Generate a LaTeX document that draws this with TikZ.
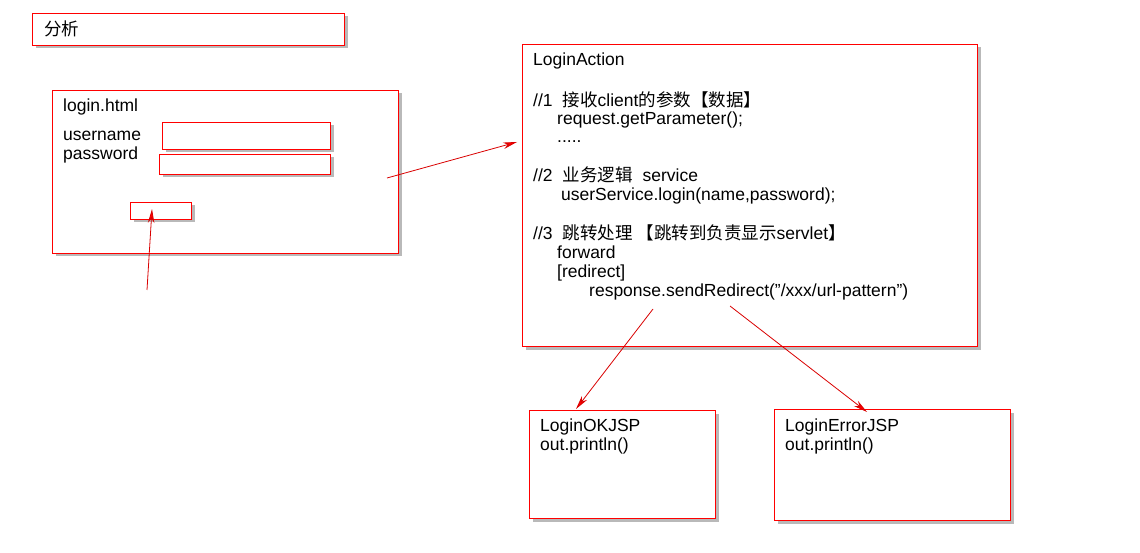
\documentclass[tikz,border=0pt]{standalone}
\usepackage{fontspec}
\setmainfont{Liberation Sans}
\newfontfamily\cjk{Noto Sans CJK SC}
\usetikzlibrary{shadows,arrows.meta}
\tikzset{
  box/.style={draw=red, line width=1pt, fill=white, inner sep=0pt, anchor=north west,
    drop shadow={shadow xshift=3pt, shadow yshift=-3pt, opacity=0.55, fill=gray}},
  txt/.style={anchor=base west, inner sep=0pt, font=\fontsize{17.5}{20}\selectfont},
  conn/.style={draw=red!85!black, line width=0.8pt, -{Stealth[length=14pt,width=6.5pt,fill=red]}},
}
\begin{document}
\begin{tikzpicture}[x=1pt,y=-1pt]
\useasboundingbox (0,0) rectangle (1140,553);
% title box
\node[box, minimum width=312, minimum height=32] (title) at (32,13) {};
\node[txt] (titletxt) at (44,36) {\cjk 分析};
% login.html
\node[box, minimum width=346, minimum height=163] (login) at (52,90) {};
\node[txt] (logintxt) at (63,112) {login.html};
\node[txt] (user) at (63,141) {username};
\node[txt] (pass) at (63,160) {password};
\node[box, minimum width=168, minimum height=27] (f1) at (162,122) {};
\node[box, minimum width=171, minimum height=20] (f2) at (159,154) {};
\node[box, minimum width=61, minimum height=17] (btn) at (130,202) {};
% LoginAction
\node[box, minimum width=455, minimum height=302] (action) at (522,44) {};
\node[txt] at (533,66) {LoginAction};
\node[txt] at (533,107) {//1\hspace{10pt}{\cjk 接收}client{\cjk 的参数【数据】}};
\node[txt] at (557,125) {request.getParameter();};
\node[txt] at (557,143) {.....};
\node[txt] at (533,182) {//2\hspace{10pt}{\cjk 业务逻辑}\hspace{10pt}service};
\node[txt] at (561,201) {userService.login(name,password);};
\node[txt] at (533,240) {//3\hspace{10pt}{\cjk 跳转处理 【跳转到负责显示}servlet{\cjk 】}};
\node[txt] at (557,259) {forward};
\node[txt] at (557,278) {[redirect]};
\node[txt] at (589,297) {response.sendRedirect("/xxx/url-pattern")};
% JSP boxes
\node[box, minimum width=186, minimum height=108] (ok) at (529,410) {};
\node[txt] at (540,431) {LoginOKJSP};
\node[txt] at (540,450) {out.println()};
\node[box, minimum width=236, minimum height=111] (err) at (774,409) {};
\node[txt] at (785,431) {LoginErrorJSP};
\node[txt] at (785,450) {out.println()};
% connector ends
\coordinate (a1s) at (147,290);
\coordinate (a1e) at (152,209);
\coordinate (a2s) at (387,178);
\coordinate (a2e) at (517,142);
\coordinate (a3s) at (653,309);
\coordinate (a3e) at (576,409);
\coordinate (a4s) at (730,306);
\coordinate (a4e) at (867,412);
\draw[conn] (a1s) -- (a1e);
\draw[conn] (a2s) -- (a2e);
\draw[conn] (a3s) -- (a3e);
\draw[conn] (a4s) -- (a4e);
\end{tikzpicture}
\end{document}
